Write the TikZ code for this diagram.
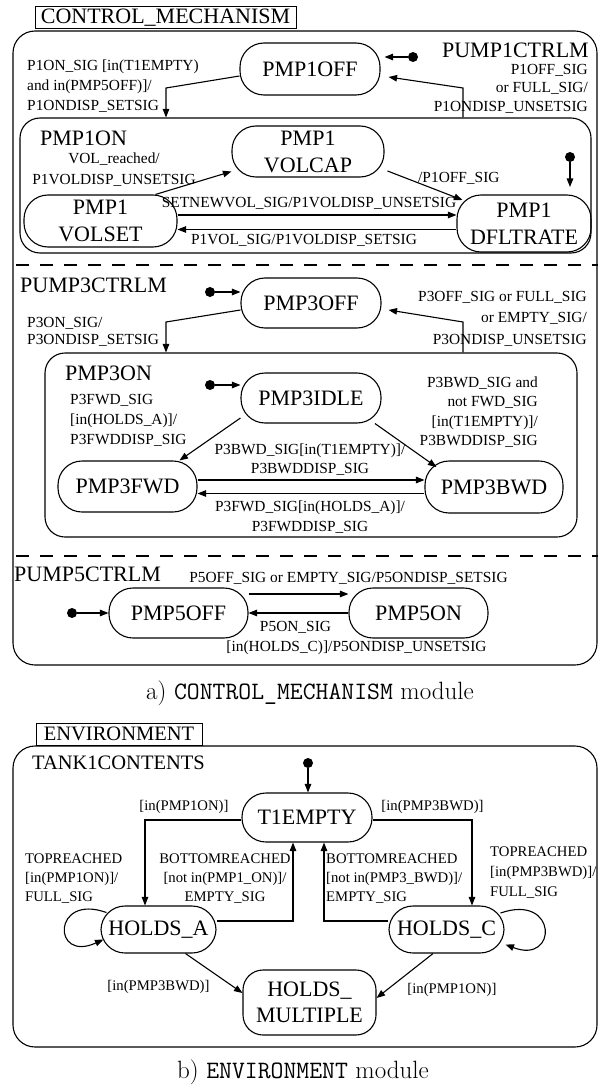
\documentclass[tikz,border=0pt]{standalone}
\usepackage{fontspec}
\newfontfamily\diagfont{Liberation Serif}
\usetikzlibrary{arrows.meta,calc}

\tikzset{
  ln/.style={line width=1.1pt},
  arr/.style={ln, -{Triangle[length=8.5pt,width=6.5pt]}},
  state/.style={draw, ln, rounded corners=24pt, inner sep=0pt, align=center,
    font=\diagfont\fontsize{22}{27}\selectfont},
  box/.style={draw, ln, rounded corners=22pt, inner sep=0pt},
  titlebox/.style={draw, line width=1pt, inner sep=0pt,
    font=\diagfont\fontsize{22}{24}\selectfont},
  head/.style={inner sep=0pt, font=\diagfont\fontsize{22}{24}\selectfont},
  lbl/.style={inner sep=0pt, font=\diagfont\fontsize{15.4}{#1}\selectfont},
  lbl/.default=19.5,
  elbl/.style={inner sep=0pt, font=\diagfont\fontsize{14.7}{#1}\selectfont},
  elbl/.default=19,
  dot/.style={circle, fill, inner sep=0pt, minimum size=10pt},
  sep/.style={ln, dash pattern=on 13pt off 11pt},
  caption/.style={inner sep=0pt, font=\fontsize{25}{28}\selectfont},
}

\begin{document}
\begin{tikzpicture}[x=1pt,y=-1pt]
\useasboundingbox (0,0) rectangle (598,1086);

% ---------------- CONTROL_MECHANISM module ----------------
\node[titlebox, minimum width=261pt, minimum height=22pt] (cmTitle) at (165.5,18) {CONTROL\_MECHANISM};
\node[box, minimum width=584pt, minimum height=634pt] (cmFrame) at (305,348) {};

% PUMP1CTRLM region
\node[head, anchor=east] (pump1Name) at (589,50) {PUMP1CTRLM};
\node[state, minimum width=140pt, minimum height=52pt] (p1off) at (310,69) {PMP1OFF};
\node[dot] (i1) at (413,57) {};
\node[box, rounded corners=20pt, minimum width=571pt, minimum height=135pt] (pmp1on) at (305.5,185.5) {};
\node[head, anchor=west] (pmp1onName) at (40,138) {PMP1ON};
\node[state, minimum width=152pt, minimum height=51pt] (p1volcap) at (308,151.5) {PMP1\\VOLCAP};
\node[state, minimum width=153pt, minimum height=52pt] (p1volset) at (100.5,221) {PMP1\\VOLSET};
\node[state, minimum width=134pt, minimum height=57pt] (p1dflt) at (524,223.5) {PMP1\\DFLTRATE};
\node[dot] (i2) at (570,157) {};

\draw[arr] (i1) -- ([xshift=4pt,yshift=12pt]p1off.east);
\coordinate (b1) at (166,88);
\draw[arr] ([yshift=-7pt]p1off.west) -- (b1) -- (b1 |- pmp1on.north);
\node[lbl=20, anchor=west, align=left] (l1on) at (27,86) {P1ON\_SIG [in(T1EMPTY)\\and in(PMP5OFF)]/\\P1ONDISP\_SETSIG};
\coordinate (b2) at (463,88);
\draw[arr] (b2 |- pmp1on.north) -- (b2) -- ([xshift=8pt,yshift=-8pt]p1off.east);
\node[lbl=18.5, anchor=east, align=right] (l1off) at (588,88.5) {P1OFF\_SIG\\or FULL\_SIG/\\P1ONDISP\_UNSETSIG};

\draw[arr] (i2) -- ++(0,30);
\draw[arr] ([xshift=55pt]p1volset.north) -- ([yshift=-20pt]p1volcap.west);
\node[lbl=21, align=center] (lvol) at (114,169.5) {VOL\_reached/\\P1VOLDISP\_UNSETSIG};
\draw[arr] ([xshift=3pt,yshift=-19.5pt]p1volcap.east) -- ([xshift=6pt,yshift=23.5pt]p1dflt.west);
\node[lbl, anchor=west] (loff) at (418,178) {/P1OFF\_SIG};
\coordinate (s1) at ([yshift=6pt]p1volset.east);
\draw[arr] (s1) -- (s1 -| p1dflt.west);
\node[lbl] (lsetnew) at (309,203) {SETNEWVOL\_SIG/P1VOLDISP\_UNSETSIG};
\coordinate (s2) at ([yshift=-6pt]p1dflt.west);
\draw[arr] (s2) -- (s2 -| p1volset.east);
\node[lbl] (lp1vol) at (304,240) {P1VOL\_SIG/P1VOLDISP\_SETSIG};

\coordinate (d1) at (0,265);
\draw[sep] ([xshift=4pt]cmFrame.west |- d1) -- (cmFrame.east |- d1);

% PUMP3CTRLM region
\node[head, anchor=west] (pump3Name) at (20,285) {PUMP3CTRLM};
\node[state, minimum width=140pt, minimum height=50pt] (p3off) at (311,303) {PMP3OFF};
\node[dot] (i3) at (210,292) {};
\node[box, rounded corners=20pt, minimum width=532pt, minimum height=184pt] (pmp3on) at (311,445) {};
\node[head, anchor=west] (pmp3onName) at (65,373) {PMP3ON};
\node[state, minimum width=140pt, minimum height=50pt] (p3idle) at (311,398) {PMP3IDLE};
\node[dot] (i4) at (210,385) {};
\node[state, minimum width=139pt, minimum height=51pt] (p3fwd) at (127.5,486.5) {PMP3FWD};
\node[state, minimum width=138pt, minimum height=52pt] (p3bwd) at (494,487) {PMP3BWD};

\draw[arr] (i3) -- (i3 -| p3off.west);
\coordinate (b3) at (166,322);
\draw[arr] ([yshift=-7pt]p3off.west) -- (b3) -- (b3 |- pmp3on.north);
\node[lbl=17, anchor=west, align=left] (l3on) at (27,331.5) {P3ON\_SIG/\\P3ONDISP\_SETSIG};
\coordinate (b4) at (463,322);
\draw[arr] (b4 |- pmp3on.north) -- (b4) -- ([xshift=7pt,yshift=-7pt]p3off.east);
\node[lbl=21.5, anchor=east, align=right] (l3off) at (587,318.5) {P3OFF\_SIG or FULL\_SIG\\or EMPTY\_SIG/\\P3ONDISP\_UNSETSIG};

\draw[arr] (i4) -- (i4 -| p3idle.west);
\draw[arr] ([yshift=-20pt]p3idle.west) -- ([xshift=52pt]p3fwd.north);
\node[lbl=20, anchor=west, align=left] (lfwd) at (70,420) {P3FWD\_SIG\\{}[in(HOLDS\_A)]/\\P3FWDDISP\_SIG};
\draw[arr] ([xshift=64pt]p3idle.south) -- ([xshift=12pt,yshift=20pt]p3bwd.west);
\node[lbl=19.3, anchor=east, align=right] (lbwd) at (538,412) {P3BWD\_SIG and\\not FWD\_SIG\\{}[in(T1EMPTY)]/\\P3BWDDISP\_SIG};
\coordinate (f1) at ([yshift=6.5pt]p3fwd.east);
\draw[arr] (f1) -- (f1 -| p3bwd.west);
\node[lbl=19, align=center] (lfb) at (310,459.5) {P3BWD\_SIG[in(T1EMPTY)]/\\P3BWDDISP\_SIG};
\coordinate (f2) at ([yshift=-6.5pt]p3bwd.west);
\draw[arr] (f2) -- (f2 -| p3fwd.east);
\node[lbl=20, align=center] (lbf) at (310,517) {P3FWD\_SIG[in(HOLDS\_A)]/\\P3FWDDISP\_SIG};

\coordinate (d2) at (0,556);
\draw[sep] ([xshift=4pt]cmFrame.west |- d2) -- (cmFrame.east |- d2);

% PUMP5CTRLM region
\node[head, anchor=west] (pump5Name) at (14,574) {PUMP5CTRLM};
\node[state, minimum width=139pt, minimum height=50pt] (p5off) at (178.5,613) {PMP5OFF};
\node[state, minimum width=139pt, minimum height=50pt] (p5on) at (418.5,613) {PMP5ON};
\node[dot] (i5) at (72,613) {};
\draw[arr] (i5) -- (p5off.west);
\draw[arr] ([yshift=19pt]p5off.east) -- ([yshift=19pt]p5on.west);
\node[lbl] (l5off) at (348.5,578) {P5OFF\_SIG or EMPTY\_SIG/P5ONDISP\_SETSIG};
\draw[arr] (p5on.west) -- (p5off.east);
\node[lbl] (l5on) at (295.5,627) {P5ON\_SIG};
\node[lbl] (l5on2) at (356.5,648) {[in(HOLDS\_C)]/P5ONDISP\_UNSETSIG};

\node[caption] (capA) at (310,693) {a) \texttt{CONTROL\_MECHANISM} module};

% ---------------- ENVIRONMENT module ----------------
\node[titlebox, font=\diagfont\fontsize{20.5}{22}\selectfont, minimum width=166pt, minimum height=22pt] (envTitle) at (119,734) {ENVIRONMENT};
\node[box, minimum width=584pt, minimum height=301pt] (envFrame) at (305,896.5) {};
\node[head, font=\diagfont\fontsize{20.5}{22}\selectfont, anchor=west] (tankName) at (32,763) {TANK1CONTENTS};
\node[state, minimum width=130pt, minimum height=49pt] (t1empty) at (307,817.5) {T1EMPTY};
\node[dot] (i6) at (308,763) {};
\node[state, minimum width=115pt, minimum height=47pt] (holdsA) at (158.5,929.5) {HOLDS\_A};
\node[state, minimum width=115pt, minimum height=47pt] (holdsC) at (446.5,929.5) {HOLDS\_C};
\node[state, rounded corners=20pt, font=\diagfont\fontsize{22}{26}\selectfont, minimum width=133pt, minimum height=65pt] (holdsM) at (309.5,1002.5) {HOLDS\_\\MULTIPLE};

\draw[arr] (i6) -- (i6 |- t1empty.north);
\coordinate (e1) at ([yshift=-2.5pt]t1empty.west);
\coordinate (e1b) at (145,820);
\draw[arr] (e1) -- (e1b) -- (e1b |- holdsA.north);
\node[elbl] (le1) at (184,807) {[in(PMP1ON)]};
\coordinate (e2) at ([yshift=-2.5pt]t1empty.east);
\coordinate (e2b) at (472,820);
\draw[arr] (e2) -- (e2b) -- (e2b |- holdsC.north);
\node[elbl] (le2) at (432.5,807) {[in(PMP3BWD)]};

\coordinate (e3) at ([yshift=8.5pt]holdsA.east);
\coordinate (e3b) at (293,921);
\draw[arr] (e3) -- (e3b) -- (e3b |- t1empty.south);
\node[elbl, align=center] (le3) at (225,879) {BOTTOMREACHED\\{}[not in(PMP1\_ON)]/\\EMPTY\_SIG};
\coordinate (e4) at ([yshift=8.5pt]holdsC.west);
\coordinate (e4b) at (324,921);
\draw[arr] (e4) -- (e4b) -- (e4b |- t1empty.south);
\node[elbl, anchor=west, align=left] (le4) at (326,879) {BOTTOMREACHED\\{}[not in(PMP3\_BWD)]/\\EMPTY\_SIG};

\node[elbl, anchor=west, align=left] (le5) at (25,879) {TOPREACHED\\{}[in(PMP1ON)]/\\FULL\_SIG};
\node[elbl=20, anchor=west, align=left] (le6) at (490,873) {TOPREACHED\\{}[in(PMP3BWD)]/\\FULL\_SIG};

\draw[arr] ([xshift=6pt,yshift=17pt]holdsA.west) .. controls (52,893) and (52,963) .. ([xshift=3pt,yshift=-10pt]holdsA.west);
\draw[arr] ([xshift=-4pt,yshift=16.5pt]holdsC.east) .. controls (558,893) and (558,965) .. ([xshift=1pt,yshift=-15pt]holdsC.east);

\draw[arr] ([xshift=27pt]holdsA.south) -- ([yshift=9.5pt]holdsM.west);
\node[elbl] (le7) at (158.5,987) {[in(PMP3BWD)]};
\draw[arr] ([xshift=-13.5pt]holdsC.south) -- ([yshift=4.5pt]holdsM.east);
\node[elbl] (le8) at (452,990) {[in(PMP1ON)]};

\node[caption] (capB) at (303,1072) {b) \texttt{ENVIRONMENT} module};
\end{tikzpicture}
\end{document}
